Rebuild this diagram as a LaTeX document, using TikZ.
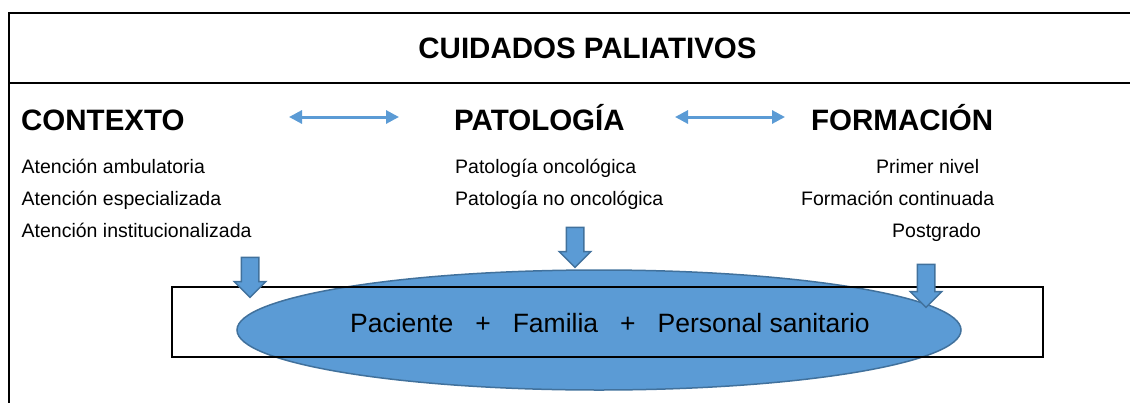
\documentclass[tikz,border=0pt]{standalone}
\usepackage{fontspec}
\setmainfont{Liberation Sans}
\usetikzlibrary{arrows.meta, shapes.geometric, shapes.arrows}
\definecolor{fillblue}{HTML}{5B9BD5}
\definecolor{edgeblue}{HTML}{41719C}
\tikzset{
  title/.style = {font=\fontsize{29.5}{34}\selectfont\bfseries, anchor=base, inner sep=0},
  head/.style = {font=\fontsize{29.5}{34}\selectfont\bfseries, anchor=base west, inner sep=0},
  item/.style = {font=\fontsize{19.5}{22}\selectfont, anchor=base west, inner sep=0},
  frame/.style = {line width=2pt},
  twoway/.style = {draw=fillblue, line width=3pt, {Triangle[length=13pt,width=13pt]}-{Triangle[length=13pt,width=13pt]}},
  blockarrow/.style = {single arrow, rotate=-90, draw=edgeblue, fill=fillblue, line width=1.5pt,
    inner xsep=0, inner ysep=8pt, minimum width=30pt, single arrow head extend=7pt, single arrow head indent=0pt},
  cloud/.style = {ellipse, draw=edgeblue, fill=fillblue, line width=1.5pt, minimum width=724pt, minimum height=120pt, inner sep=0}
}
\begin{document}
\begin{tikzpicture}[x=1pt, y=-1pt]
\useasboundingbox (0,0) rectangle (1130,402);
% outer frame and header line
\draw [frame] (1131,13) -| (9,403);
\draw [frame] (9,83) -- (1131,83);
\node (title) [title] at (587.5,58) {CUIDADOS PALIATIVOS};

% column heads
\node (contexto) [head] at (21,130) {CONTEXTO};
\node (patologia) [head] at (454,130) {PATOLOGÍA};
\node (formacion) [head] at (811,130) {FORMACIÓN};
\coordinate (a1) at (289,117);
\coordinate (b1) at (399,117);
\coordinate (a2) at (675,117);
\coordinate (b2) at (785,117);
\draw [twoway] (a1) -- (b1);
\draw [twoway] (a2) -- (b2);

% column items
\node (ctx1) [item] at (21.5,173) {Atención ambulatoria};
\node (ctx2) [item] at (21.5,205) {Atención especializada};
\node (ctx3) [item] at (21.5,237) {Atención institucionalizada};
\node (pat1) [item] at (455,173) {Patología oncológica};
\node (pat2) [item] at (455,205) {Patología no oncológica};
\node (for1) [item] at (876,173) {Primer nivel};
\node (for2) [item] at (801,205) {Formación continuada};
\node (for3) [item] at (892,237) {Postgrado};

% centre
\node (centro) [cloud] at (599,330) {};
\node (texto) [font=\fontsize{26.5}{30}\selectfont, anchor=base, inner sep=0] at (610,332)
  {Paciente\hspace{22pt}+\hspace{22pt}Familia\hspace{22pt}+\hspace{22pt}Personal sanitario};
\draw [frame] (172,287) rectangle (1043,357);

% block arrows
\node (down1) [blockarrow, minimum height=40pt] at (250,273) {};
\node (down2) [blockarrow, minimum height=40pt] at (575,243) {};
\node (down3) [blockarrow, minimum height=43pt] at (926,281.5) {};
\end{tikzpicture}
\end{document}
